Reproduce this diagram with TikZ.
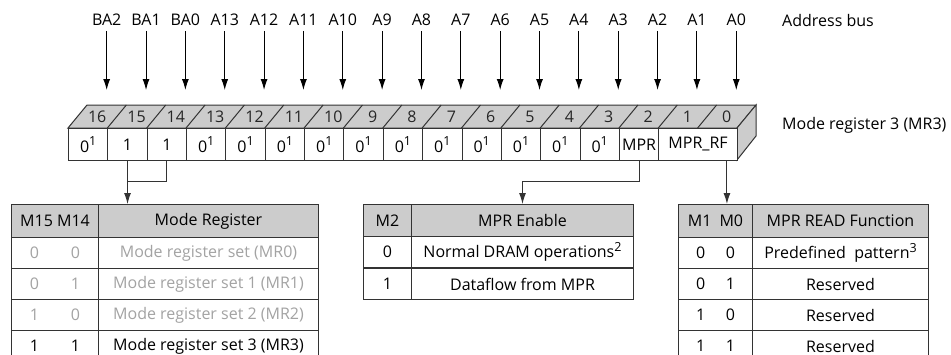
\documentclass[tikz,border=0pt]{standalone}
\usepackage{fontspec}
\setmainfont{Open Sans}
\usetikzlibrary{arrows.meta,calc}
\definecolor{cFace}{HTML}{CCCCCC}
\definecolor{cDim}{HTML}{A3A3A3}
\definecolor{cLine}{HTML}{333333}
\newcommand{\fnmark}[1]{\raisebox{0.42em}{\fontsize{12.5}{13}\selectfont #1}}
\newcommand{\regzero}{0\fnmark{1}}
\newcommand{\bitpair}[3]{\makebox[#1]{#2\hfill#3}}

\begin{document}
\begin{tikzpicture}[x=1pt, y=-1pt,
  font=\fontsize{16}{18}\selectfont,
  cell/.style  = {draw=cLine, fill=white, line width=1pt, anchor=north west,
                  minimum width=39.35pt, minimum height=32pt, inner sep=0pt},
  hdr/.style   = {draw=cLine, fill=cFace, line width=1pt, anchor=north west,
                  minimum height=33pt, inner sep=0pt},
  row/.style   = {draw=cLine, fill=white, line width=1pt, anchor=north west,
                  minimum height=31pt, inner sep=0pt},
  bitnum/.style= {inner sep=0pt, text=black!85},
  busname/.style={inner sep=1pt},
  bus/.style   = {-{Latex[length=11pt,width=7pt]}, line width=1pt, draw=black,
                  shorten <=4pt, shorten >=15pt},
  conn/.style  = {-{Latex[length=11pt,width=7pt]}, line width=1pt, draw=cLine},
  link/.style  = {line width=1pt, draw=cLine},
]
\useasboundingbox (0,0) rectangle (951,354);

% register block: top and side faces
\filldraw[fill=cFace, draw=cLine, line width=1pt]
  (68,128) -- (737,128) -- (756,105) -- (87,105) -- cycle;
\filldraw[fill=cFace, draw=cLine, line width=1pt]
  (737,128) -- (756,105) -- (756,136) -- (737,160) -- cycle;

\foreach \i/\val in {16/\regzero, 15/1, 14/1, 13/\regzero, 12/\regzero,
  11/\regzero, 10/\regzero, 9/\regzero, 8/\regzero, 7/\regzero, 6/\regzero,
  5/\regzero, 4/\regzero, 3/\regzero, 2/MPR}
  \node[cell] (c\i) at ({68+(16-\i)*39.35},128) {\val};
\node[cell, minimum width=78.7pt] (rf) at ({68+15*39.35},128) {MPR\_RF};

\foreach \i/\lbl in {16/BA2, 15/BA1, 14/BA0, 13/A13, 12/A12, 11/A11, 10/A10,
  9/A9, 8/A8, 7/A7, 6/A6, 5/A5, 4/A4, 3/A3, 2/A2, 1/A1, 0/A0}
{
  \pgfmathsetmacro{\xc}{68+(16.5-\i)*39.35}
  \pgfmathsetmacro{\xl}{68+(16-\i)*39.35}
  \ifnum\i<16
    \draw[cLine, line width=1pt] (\xl,128) -- ++(19,-23);
  \fi
  \node[bitnum] (n\i) at (\xc+9.5,117) {\i};
  \coordinate (t\i) at (\xc+19,105);
  \node[busname] (a\i) at (\xc+19,20) {\lbl};
  \draw[bus] (a\i.south) -- (t\i);
}
\node[anchor=west, inner sep=0pt] (bus) at (782,20) {Address bus};
\node[anchor=west, inner sep=0pt] (mr3) at (782,125) {Mode register 3 (MR3)};

% table: mode register select
\node[hdr, minimum width=87pt]  (mrh1) at (11,204) {M15 M14};
\node[hdr, minimum width=220pt] (mrh2) at (98,204) {Mode Register};
\foreach \r/\a/\b/\txt/\col in {
  1/0/0/{Mode register set (MR0)}/cDim,
  2/0/1/{Mode register set 1 (MR1)}/cDim,
  3/1/0/{Mode register set 2 (MR2)}/cDim,
  4/1/1/{Mode register set 3 (MR3)}/black}
{
  \node[row, text=\col, minimum width=87pt]  (mr\r a) at (11,{237+(\r-1)*31}) {\bitpair{50pt}{\a}{\b}};
  \node[row, text=\col, minimum width=220pt] (mr\r b) at (98,{237+(\r-1)*31}) {\txt};
}

% table: MPR enable
\node[hdr, minimum height=32pt, minimum width=48pt]  (mph1) at (363,204) {M2};
\node[hdr, minimum height=32pt, minimum width=222pt] (mph2) at (411,204) {MPR Enable};
\foreach \r/\a/\txt in {1/0/{Normal DRAM operations\fnmark{2}},
  2/1/{Dataflow from MPR}}
{
  \node[row, minimum width=48pt]  (mp\r a) at (363,{236+(\r-1)*32}) {\a};
  \node[row, minimum width=222pt] (mp\r b) at (411,{236+(\r-1)*32}) {\txt};
}

% table: MPR read function
\node[hdr, minimum width=74pt]  (rfh1) at (678,204) {M1\hspace{8pt}M0};
\node[hdr, minimum width=176pt] (rfh2) at (752,204) {MPR READ Function};
\foreach \r/\a/\b/\txt in {1/0/0/{Predefined\ \ pattern\fnmark{3}},
  2/0/1/Reserved, 3/1/0/Reserved, 4/1/1/Reserved}
{
  \node[row, minimum width=74pt]  (rf\r a) at (678,{237+(\r-1)*31}) {\bitpair{39pt}{\a}{\b}};
  \node[row, minimum width=176pt] (rf\r b) at (752,{237+(\r-1)*31}) {\txt};
}

% connectors
\draw[link] (c14.south) -- ++(0,20) -| (c15.south);
\draw[conn] (c15.south) -- (c15.south |- mrh1.north);
\draw[conn] (c2.south) -- ++(0,20) -| (mph2.north);
\coordinate (rfo) at ($(rf.south east)+(-11,0)$);
\draw[conn] (rfo) -- (rfo |- rfh1.north);
\end{tikzpicture}
\end{document}
